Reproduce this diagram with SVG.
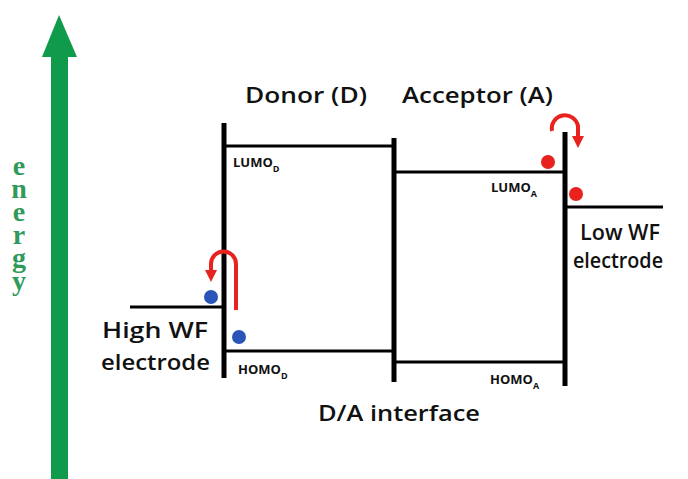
<svg xmlns="http://www.w3.org/2000/svg" width="688" height="479" viewBox="0 0 688 479">
<defs>
<style>
.lvl{stroke:#000;stroke-width:3;fill:none}
.wall{stroke:#000;stroke-width:5;fill:none}
.lbl{font-family:"Open Sans","DejaVu Sans",sans-serif;font-weight:600;fill:#111;font-size:21px}
.sm{font-family:"Open Sans","DejaVu Sans",sans-serif;font-weight:700;fill:#111;font-size:13px}
.sub{font-size:9px}
.en{font-family:"Liberation Serif",serif;font-weight:700;fill:#2f9a5a;font-size:28px;writing-mode:vertical-lr;text-orientation:upright;letter-spacing:-8px}
.red{stroke:#e8231f;stroke-width:4;fill:none}
</style>
<marker id="rh" viewBox="0 0 10 10" refX="5" refY="5" markerWidth="3" markerHeight="3" orient="auto-start-reverse" markerUnits="strokeWidth">
<path d="M0,0 L10,5 L0,10 z" fill="#e8231f"/>
</marker>
</defs>
<rect width="688" height="479" fill="#fff"/>
<g id="energy-axis">
<rect x="51" y="55" width="17" height="424" fill="#0f9a4c"/>
<polygon points="59,15 42,57 77,57" fill="#0f9a4c"/>
<text class="en" x="19" y="150">energy</text>
</g>
<g id="connectors">
<line class="wall" x1="224" y1="123" x2="224" y2="378"/>
<line class="wall" x1="394" y1="138" x2="394" y2="382"/>
<line class="wall" x1="565" y1="132" x2="565" y2="386"/>
<line class="lvl" x1="224" y1="146" x2="394" y2="146"/>
<line class="lvl" x1="394" y1="172" x2="565" y2="172"/>
<line class="lvl" x1="224" y1="351" x2="394" y2="351"/>
<line class="lvl" x1="394" y1="362" x2="565" y2="362"/>
<line class="lvl" x1="130" y1="307" x2="224" y2="307"/>
<line class="lvl" x1="565" y1="207" x2="663" y2="207"/>
<path class="red" d="M236,310 V264 A12.5,12.5 0 0 0 211,264 V276" marker-end="url(#rh)"/>
<path class="red" d="M552,131 A13,13 0 1 1 578,126 V142" marker-end="url(#rh)"/>
</g>
<g id="donor">
<text class="lbl" x="245" y="103" textLength="122" lengthAdjust="spacingAndGlyphs">Donor (D)</text>
<text class="sm" x="233" y="167">LUMO<tspan class="sub" dy="5">D</tspan></text>
<text class="sm" x="238" y="374">HOMO<tspan class="sub" dy="5">D</tspan></text>
<circle cx="239" cy="337" r="7" fill="#2a55b8"/>
</g>
<g id="acceptor">
<text class="lbl" x="402" y="103" textLength="151" lengthAdjust="spacingAndGlyphs">Acceptor (A)</text>
<text class="sm" x="491" y="192">LUMO<tspan class="sub" dy="5">A</tspan></text>
<text class="sm" x="490" y="384">HOMO<tspan class="sub" dy="5">A</tspan></text>
<circle cx="548" cy="162" r="7" fill="#e8231f"/>
</g>
<g id="high-wf">
<text class="lbl" x="102" y="338" textLength="106" lengthAdjust="spacingAndGlyphs">High WF</text>
<text class="lbl" x="101" y="370" textLength="109" lengthAdjust="spacingAndGlyphs">electrode</text>
<circle cx="211" cy="297" r="7" fill="#2a55b8"/>
</g>
<g id="low-wf">
<text class="lbl" x="580" y="240" textLength="80" lengthAdjust="spacingAndGlyphs">Low WF</text>
<text class="lbl" x="573" y="268" textLength="90" lengthAdjust="spacingAndGlyphs">electrode</text>
<circle cx="576" cy="194" r="7" fill="#e8231f"/>
</g>
<g id="interface">
<text class="lbl" x="318" y="421" textLength="162" lengthAdjust="spacingAndGlyphs">D/A interface</text>
</g>
</svg>
